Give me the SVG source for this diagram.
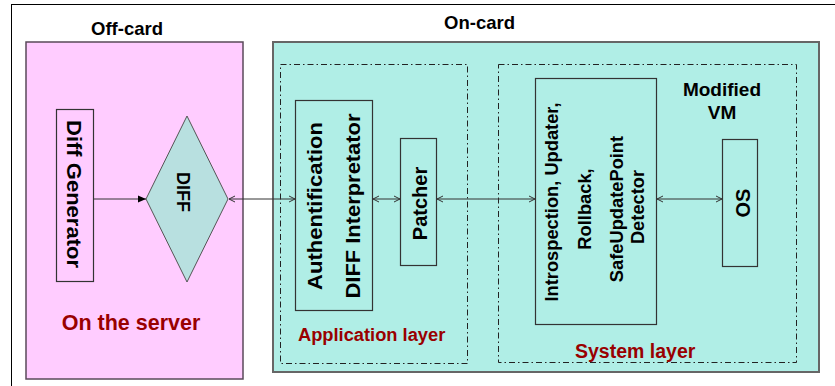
<svg xmlns="http://www.w3.org/2000/svg" width="835" height="386" viewBox="0 0 835 386">
<defs>
<style>
.t{font-family:"Liberation Sans",Arial,sans-serif;font-weight:bold;fill:#000}
.red{fill:#990000}
.box{fill:none;stroke:#333;stroke-width:1.2}
.dash{fill:none;stroke:#222;stroke-width:1;stroke-dasharray:6 3 1.5 3}
.con{stroke:#333;stroke-width:1;fill:none}
</style>
<marker id="oa" viewBox="0 0 8 8" refX="7" refY="4" markerWidth="8" markerHeight="8" markerUnits="userSpaceOnUse" orient="auto-start-reverse">
<path d="M1,1 L7,4 L1,7" fill="none" stroke="#333" stroke-width="1"/>
</marker>
<marker id="fa" viewBox="0 0 8 8" refX="8" refY="4" markerWidth="8" markerHeight="8" markerUnits="userSpaceOnUse" orient="auto">
<path d="M0,0.5 L8,4 L0,7.5 Z" fill="#000"/>
</marker>
</defs>
<rect width="835" height="386" fill="#fff"/>
<rect x="11.5" y="4.5" width="900" height="500" fill="none" stroke="#000" stroke-width="1"/>

<g id="offcard">
<rect x="26" y="42" width="217" height="337" fill="#FFCCFF" stroke="#5a4a5a" stroke-width="1.5"/>
<text class="t" x="127" y="35" font-size="18.5" text-anchor="middle">Off-card</text>
<text class="t red" x="131" y="330" font-size="21.5" text-anchor="middle">On the server</text>
</g>

<g id="oncard">
<rect x="273" y="42" width="546" height="330" fill="#B0EEE6" stroke="#666" stroke-width="2"/>
<text class="t" x="479.5" y="29" font-size="18.5" text-anchor="middle">On-card</text>
</g>

<g id="application-layer">
<rect class="dash" x="280.5" y="64.5" width="187" height="299"/>
<text class="t red" x="298" y="341" font-size="18.3">Application layer</text>
</g>

<g id="system-layer">
<rect class="dash" x="498.5" y="64.5" width="298" height="298"/>
<text class="t red" x="575" y="358" font-size="19.5">System layer</text>
<text class="t" x="722" y="96" font-size="19" text-anchor="middle">Modified</text>
<text class="t" x="722" y="119" font-size="19" text-anchor="middle">VM</text>
</g>

<g id="diff-generator">
<rect class="box" x="56.5" y="109.5" width="37" height="172"/>
<text class="t" transform="translate(67,194) rotate(90)" font-size="21" text-anchor="middle" textLength="148" lengthAdjust="spacingAndGlyphs">Diff Generator</text>
</g>

<g id="diff">
<polygon points="187,116 228,199 187,282 146,199" fill="#B8E0E0" stroke="#555" stroke-width="1"/>
<text class="t" transform="translate(177,192) rotate(90)" font-size="18" text-anchor="middle">DIFF</text>
</g>

<g id="auth">
<rect class="box" x="295.5" y="100.5" width="77" height="210"/>
<text class="t" transform="translate(321.5,206) rotate(-90)" font-size="20" text-anchor="middle" textLength="168" lengthAdjust="spacingAndGlyphs">Authentification</text>
<text class="t" transform="translate(360,206) rotate(-90)" font-size="21" text-anchor="middle" textLength="185" lengthAdjust="spacingAndGlyphs">DIFF Interpretator</text>
</g>

<g id="patcher">
<rect class="box" x="400.5" y="138.5" width="36" height="127"/>
<text class="t" transform="translate(427,203.5) rotate(-90)" font-size="20" text-anchor="middle">Patcher</text>
</g>

<g id="introspection">
<rect class="box" x="535.5" y="78.5" width="121" height="246"/>
<text class="t" transform="translate(558,202) rotate(-90)" font-size="18.3" text-anchor="middle">Introspection, Updater,</text>
<text class="t" transform="translate(591,209) rotate(-90)" font-size="18.3" text-anchor="middle">Rollback,</text>
<text class="t" transform="translate(623,209) rotate(-90)" font-size="18.3" text-anchor="middle">SafeUpdatePoint</text>
<text class="t" transform="translate(644,207) rotate(-90)" font-size="18.3" text-anchor="middle">Detector</text>
</g>

<g id="os">
<rect class="box" x="722.5" y="139.5" width="35" height="127"/>
<text class="t" transform="translate(750,203) rotate(-90)" font-size="20" text-anchor="middle">OS</text>
</g>

<g id="connectors">
<line class="con" x1="94" y1="199" x2="146" y2="199" marker-end="url(#fa)"/>
<line class="con" x1="229" y1="199" x2="295" y2="199" marker-start="url(#oa)" marker-end="url(#oa)"/>
<line class="con" x1="373" y1="199" x2="400" y2="199" marker-start="url(#oa)" marker-end="url(#oa)"/>
<line class="con" x1="437" y1="199" x2="535" y2="199" marker-start="url(#oa)" marker-end="url(#oa)"/>
<line class="con" x1="657" y1="199" x2="722" y2="199" marker-start="url(#oa)" marker-end="url(#oa)"/>
</g>
</svg>
